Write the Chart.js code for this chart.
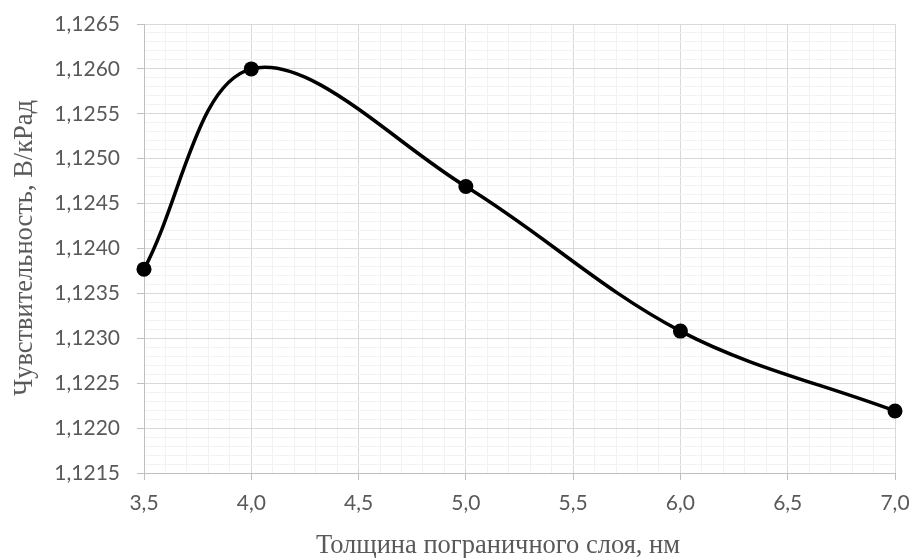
<!DOCTYPE html>
<html>
<head>
<meta charset="utf-8">
<script src="https://cdn.jsdelivr.net/npm/chart.js@4"></script>
<style>
html,body{margin:0;padding:0;background:#fff;}
#wrap{width:913px;height:558px;position:relative;}
</style>
</head>
<body>
<div id="wrap"><canvas id="c" width="913" height="558"></canvas></div>
<script>
const thickness = [3.5, 4.0, 5.0, 6.0, 7.0];
const sensitivity = [1.12377, 1.12600, 1.12469, 1.12308, 1.12219];
const xTickLabels = ['3,5','4,0','4,5','5,0','5,5','6,0','6,5','7,0'];
const yTickLabels = ['1,1215','1,1220','1,1225','1,1230','1,1235','1,1240','1,1245','1,1250','1,1255','1,1260','1,1265'];
const xTitle = 'Толщина пограничного слоя, нм';
const yTitle = 'Чувствительность, В/кРад';

const X_MIN = 3.5, X_MAX = 7.0, X_MAJOR = 0.5, X_MINOR = 0.1;
const Y_MIN = 1.1215, Y_MAX = 1.1265, Y_MAJOR = 0.0005, Y_MINOR = 0.0001;

function majorIndex(v, min, step) {
  const k = (v - min) / step;
  const r = Math.round(k);
  return Math.abs(k - r) < 1e-4 ? r : -1;
}

function clearPad(s) {
  s.paddingTop = 0; s.paddingBottom = 0; s.paddingLeft = 0; s.paddingRight = 0;
}

const titlePlugin = {
  id: 'axisTitles',
  afterDraw(chart) {
    const ctx = chart.ctx;
    ctx.save();
    ctx.fillStyle = '#595959';
    ctx.font = '26.5px "Liberation Serif", "Times New Roman", serif';
    ctx.textAlign = 'center';
    ctx.textBaseline = 'alphabetic';
    ctx.fillText(xTitle, 498, 553);
    ctx.translate(32, 248);
    ctx.rotate(-Math.PI / 2);
    ctx.fillText(yTitle, 0, 0);
    ctx.restore();
  }
};

const tickFont = { family: 'Lato, "Open Sans", sans-serif', size: 21 };

new Chart(document.getElementById('c'), {
  type: 'scatter',
  data: {
    datasets: [{
      data: thickness.map((x, i) => ({ x: x, y: sensitivity[i] })),
      showLine: true,
      clip: false,
      tension: 0.35,
      borderColor: '#000',
      backgroundColor: '#000',
      borderWidth: 3.5,
      pointRadius: 7.5,
      pointHoverRadius: 7.5,
      pointBackgroundColor: '#000',
      pointBorderColor: '#000',
      pointBorderWidth: 0
    }]
  },
  options: {
    responsive: false,
    animation: false,
    devicePixelRatio: 1,
    layout: { padding: { left: 0, top: 24, right: 18, bottom: 0 } },
    plugins: { legend: { display: false }, tooltip: { enabled: false }, title: { display: false } },
    scales: {
      x: {
        type: 'linear',
        min: X_MIN, max: X_MAX,
        afterFit(s) { s.height = 85; clearPad(s); },
        ticks: {
          stepSize: X_MINOR,
          autoSkip: false,
          maxRotation: 0,
          padding: 11,
          color: '#595959',
          font: tickFont,
          callback(v) {
            const i = majorIndex(v, X_MIN, X_MAJOR);
            return i >= 0 ? xTickLabels[i] : '';
          }
        },
        grid: {
          drawTicks: true,
          tickLength: 7,
          lineWidth: 1,
          color(ctx) { return majorIndex(ctx.tick.value, X_MIN, X_MAJOR) >= 0 ? '#d9d9d9' : '#f2f2f2'; },
          tickColor(ctx) { return majorIndex(ctx.tick.value, X_MIN, X_MAJOR) >= 0 ? '#bfbfbf' : 'rgba(0,0,0,0)'; }
        },
        border: { color: '#bfbfbf', width: 1 }
      },
      y: {
        type: 'linear',
        min: Y_MIN, max: Y_MAX,
        afterFit(s) { s.width = 144; clearPad(s); },
        ticks: {
          stepSize: Y_MINOR,
          autoSkip: false,
          padding: 17,
          color: '#595959',
          font: tickFont,
          callback(v) {
            const i = majorIndex(v, Y_MIN, Y_MAJOR);
            return i >= 0 ? yTickLabels[i] : '';
          }
        },
        grid: {
          drawTicks: true,
          tickLength: 7,
          lineWidth: 1,
          color(ctx) { return majorIndex(ctx.tick.value, Y_MIN, Y_MAJOR) >= 0 ? '#d9d9d9' : '#f2f2f2'; },
          tickColor(ctx) { return majorIndex(ctx.tick.value, Y_MIN, Y_MAJOR) >= 0 ? '#bfbfbf' : 'rgba(0,0,0,0)'; }
        },
        border: { color: '#bfbfbf', width: 1 }
      }
    }
  },
  plugins: [titlePlugin]
});
</script>
</body>
</html>
